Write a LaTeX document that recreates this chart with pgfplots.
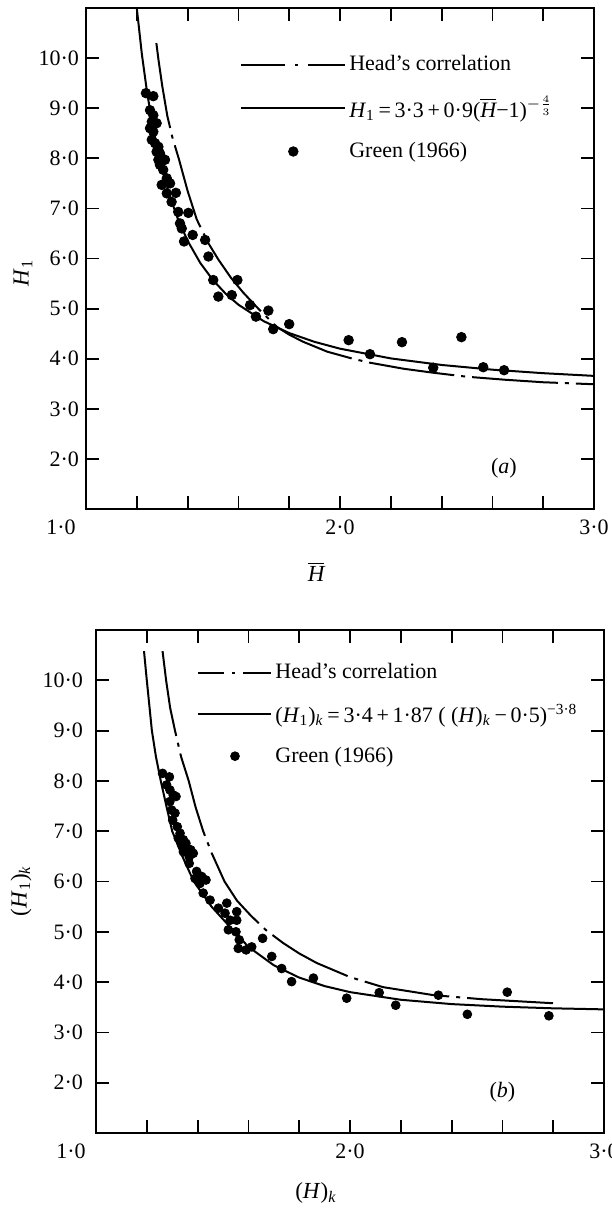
\documentclass[border=0pt]{standalone}
\usepackage{amsmath}
\usepackage{fontspec}
\setmainfont{Liberation Serif}
\usepackage{pgfplots}
\pgfplotsset{compat=1.18}

\pgfplotsset{
  panel/.style={
    scale only axis, width=254pt,
    xmin=1, xmax=3, ymin=1, ymax=11,
    axis line style={line width=1pt},
    every tick/.style={line width=0.9pt, black},
    major tick length=6.5pt,
    tick align=inside,
    xtick={1,1.2,1.4,1.6,1.8,2,2.2,2.4,2.6,2.8,3},
    xticklabels={\makebox[0pt]{\kern-25pt 1·0},{},{},{},{},2·0,{},{},{},{},3·0},
    ytick={2,3,4,5,6,7,8,9,10},
    yticklabels={2·0,3·0,4·0,5·0,6·0,7·0,8·0,9·0,10·0},
    ticklabel style={font=\fontsize{11}{13}\selectfont},
    xticklabel style={yshift=-2pt},
    label style={font=\fontsize{11.5}{13}\selectfont},
    legend style={draw=none, fill=none, inner sep=0pt, font=\fontsize{11}{13}\selectfont,
      row sep=8pt, column sep=0pt, nodes={inner sep=1.5pt}},
    legend cell align=left,
  },
  headA/.style={line width=1pt, dash pattern=on 43pt off 3.5pt on 2pt off 3.5pt},
  solidA/.style={line width=1pt},
  dots/.style={only marks, mark=*, mark size=2.4pt, black},
}

\begin{document}
\begin{tikzpicture}
\useasboundingbox (0,0) rectangle (305.5pt,-604pt);

% ---------------- panel (a)
\begin{axis}[panel, height=250.5pt,
  at={(43pt,-254.5pt)}, anchor=south west,
  xlabel={$\overline{\mbox{\itshape H}}$},
  xlabel style={at={(axis description cs:0.453,0)}, anchor=center, yshift=-31.5pt},
  ylabel={\textit{H}\textsubscript{1}},
  ylabel style={at={(axis description cs:0,0.471)}, anchor=center, rotate=0, yshift=31.5pt},
  legend style={at={(axis description cs:0.303,0.912)}, anchor=north west},
]
\addplot[headA, legend image code/.code={\draw[line width=1pt, dash pattern=on 22pt off 5pt on 1.5pt off 5pt on 40pt off 1pt] (0pt,0pt) -- (52pt,0pt);}]
 table {
1.277 10.30
1.285 9.98
1.300 9.45
1.320 8.85
1.340 8.42
1.366 7.98
1.400 7.35
1.436 6.78
1.480 6.32
1.521 5.98
1.570 5.62
1.619 5.32
1.680 4.99
1.750 4.64
1.800 4.48
1.854 4.34
1.950 4.14
2.050 4.00
2.118 3.92
2.250 3.80
2.367 3.72
2.500 3.64
2.650 3.58
2.800 3.53
3.000 3.49
};
\addlegendentry{Head’s correlation\rule[-5pt]{0pt}{5pt}}
\addplot[solidA, legend image code/.code={\draw[line width=1pt] (0pt,0pt) -- (52pt,0pt);}]
 table {
1.20 10.995
1.22 10.076
1.24 9.334
1.26 8.723
1.28 8.213
1.30 7.782
1.33 7.247
1.36 6.814
1.40 6.354
1.45 5.910
1.50 5.568
1.55 5.297
1.60 5.078
1.70 4.748
1.80 4.512
1.90 4.336
2.00 4.200
2.20 4.006
2.40 3.875
2.60 3.781
2.80 3.711
3.00 3.657
};
\addlegendentry{\textit{H}\textsubscript{1}\,=\,3·3\,+\,0·9($\overline{\mbox{\itshape H}}$−1)$^{-\frac{4}{3}}$}
\addplot[dots, legend image code/.code={\draw[only marks, mark=*, mark size=2.4pt, black] plot coordinates {(26pt,0pt)};}]
 table {
1.236 9.30
1.265 9.24
1.252 8.96
1.265 8.86
1.259 8.73
1.278 8.70
1.252 8.60
1.265 8.53
1.259 8.37
1.272 8.30
1.285 8.23
1.278 8.13
1.291 8.10
1.285 7.97
1.298 8.00
1.311 7.97
1.291 7.87
1.304 7.77
1.318 7.60
1.298 7.47
1.331 7.50
1.318 7.30
1.354 7.31
1.337 7.13
1.363 6.93
1.403 6.91
1.370 6.70
1.377 6.60
1.420 6.47
1.386 6.34
1.469 6.37
1.482 6.04
1.501 5.57
1.596 5.57
1.521 5.24
1.574 5.27
1.646 5.07
1.669 4.84
1.718 4.96
1.737 4.59
1.800 4.69
2.034 4.37
2.118 4.09
2.244 4.33
2.367 3.82
2.478 4.43
2.564 3.83
2.646 3.77
};
\addlegendentry{Green (1966)}
\node[font=\fontsize{11}{13}\selectfont] at (axis cs:2.645,1.82) {(\textit{a})};
\end{axis}

% ---------------- panel (b)
\begin{axis}[panel, height=251.5pt,
  at={(48pt,-566.5pt)}, anchor=south west,
  yticklabel style={xshift=-3pt},
  xlabel={(\textit{H})\textsubscript{\textit{k}}},
  xlabel style={at={(axis description cs:0.433,0)}, anchor=center, yshift=-30pt},
  ylabel={(\textit{H}\textsubscript{1})\textsubscript{\textit{k}}},
  ylabel style={at={(axis description cs:0,0.481)}, anchor=center, yshift=37.5pt},
  legend style={at={(axis description cs:0.199,0.94)}, anchor=north west},
]
\addplot[headA, legend image code/.code={\draw[line width=1pt, dash pattern=on 13pt off 4pt on 1.5pt off 4pt on 30pt off 1pt] (0pt,0pt) -- (36.5pt,0pt);}]
 table {
1.262 10.58
1.276 10.00
1.292 9.45
1.311 9.00
1.335 8.48
1.365 8.00
1.392 7.48
1.422 7.00
1.455 6.57
1.506 6.00
1.555 5.62
1.610 5.32
1.670 5.03
1.736 4.78
1.800 4.57
1.869 4.38
2.000 4.10
2.130 3.90
2.330 3.74
2.520 3.66
2.800 3.58
};
\addlegendentry{Head’s correlation}
\addplot[solidA, legend image code/.code={\draw[line width=1pt] (0pt,0pt) -- (36.5pt,0pt);}]
 table {
1.189 10.58
1.200 10.00
1.220 9.00
1.236 8.48
1.255 8.00
1.278 7.48
1.300 7.00
1.340 6.50
1.385 6.00
1.455 5.50
1.545 5.00
1.600 4.702
1.700 4.335
1.800 4.090
1.900 3.921
2.000 3.801
2.200 3.649
2.400 3.563
2.600 3.512
2.800 3.479
3.000 3.458
};
\addlegendentry{(\textit{H}\textsubscript{1})\textsubscript{\textit{k}}\,=\,3·4\,+\,1·87 ( (\textit{H})\textsubscript{\textit{k}}\,−\,0·5)\textsuperscript{−3·8}\rule[-7pt]{0pt}{7pt}}
\addplot[dots, mark size=2.2pt, legend image code/.code={\draw[only marks, mark=*, mark size=2.2pt, black] plot coordinates {(18.25pt,0pt)};}]
 table {
1.262 8.15
1.289 8.08
1.278 7.92
1.291 7.82
1.304 7.72
1.315 7.69
1.291 7.59
1.298 7.42
1.311 7.36
1.302 7.22
1.320 7.09
1.331 6.96
1.324 6.86
1.344 6.83
1.337 6.73
1.354 6.76
1.359 6.66
1.344 6.59
1.373 6.63
1.383 6.56
1.367 6.49
1.367 6.36
1.396 6.20
1.390 6.06
1.416 6.10
1.409 5.96
1.433 6.03
1.422 5.77
1.449 5.63
1.482 5.47
1.515 5.57
1.508 5.37
1.554 5.40
1.528 5.23
1.554 5.23
1.521 5.04
1.551 5.00
1.656 4.87
1.564 4.84
1.560 4.67
1.591 4.64
1.613 4.70
1.692 4.51
1.731 4.27
1.770 4.01
1.856 4.08
1.987 3.68
2.115 3.79
2.180 3.54
2.348 3.74
2.462 3.36
2.619 3.80
2.783 3.33
};
\addlegendentry{Green (1966)}
\node[font=\fontsize{11}{13}\selectfont] at (axis cs:2.60,1.82) {(\textit{b})};
\end{axis}
\end{tikzpicture}
\end{document}
